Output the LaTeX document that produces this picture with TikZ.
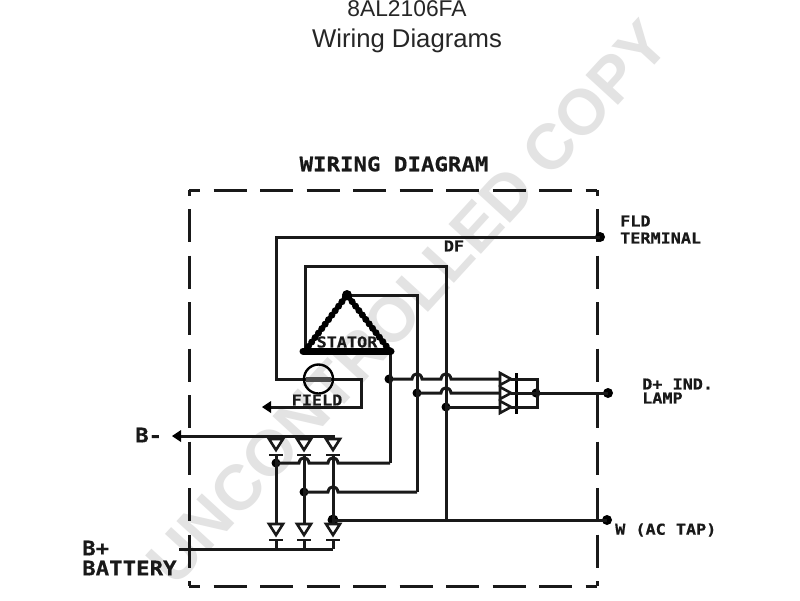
\documentclass[tikz,border=0pt]{standalone}
\usepackage{fontspec}
\setmainfont{Liberation Sans}
\newfontfamily\plot[FakeStretch=1.12,FakeBold=0.5]{DejaVu Sans Mono Bold}
\usetikzlibrary{arrows.meta,calc}
\tikzset{
 x=1pt,y=-1pt,
 wire/.style={line width=3pt,black!90},
 bxh/.style={line width=3pt,black!90,dash pattern=on 33pt off 13.5pt,dash phase=21.8pt},
 bxv/.style={line width=3pt,black!90,dash pattern=on 33pt off 13.5pt,dash phase=27.5pt},
 jn/.style={circle,fill=black,inner sep=0pt,minimum size=9pt},
 endd/.style={circle,fill=black,inner sep=0pt,minimum size=10pt},
 lab/.style={inner sep=0pt,font=\plot\fontsize{15}{15}\selectfont,text=black!90},
 labb/.style={inner sep=0pt,font=\plot\fontsize{20}{20}\selectfont,text=black!90},
 title/.style={inner sep=0pt,font=\fontsize{22.8}{24}\selectfont,text=black!85},
 mark text/.style={inner sep=0pt,font=\bfseries\fontsize{64}{64}\selectfont,text=black!11},
 diode/.style={line width=2.6pt,black!90},
 hop/.style n args={2}{insert path={-- ({#1-5},#2) .. controls ({#1-4},{#2-7}) and ({#1+4},{#2-7}) .. ({#1+5},#2)}},
}
\newcommand{\dn}[2]{% downward diode: top y given
 \draw[diode,fill=white] (#1-7,#2) -- (#1+7,#2) -- (#1,#2+11) -- cycle;
 \draw[diode] (#1-7,#2+16) -- (#1+7,#2+16);
}
\newcommand{\rd}[2]{% rightward diode triangle
 \draw[diode,fill=white] (#1,#2-6) -- (#1,#2+6) -- (#1+11,#2) -- cycle;
}
\begin{document}
\begin{tikzpicture}
\useasboundingbox (0,0) rectangle (800,600);
\fill[white] (0,0) rectangle (800,600);
\node[mark text,rotate=47.5,anchor=center] (wm) at (408,302) {UNCONTROLLED COPY};
\node[title] (t1) at (407,9) {8AL2106FA};
\node[title,font=\fontsize{25.7}{26}\selectfont] (t2) at (407,41) {Wiring Diagrams};
\node[labb] (t3) at (394,164) {WIRING DIAGRAM};
% box
\draw[bxh] (189,190) -- (597,190);
\draw[bxh] (189,586) -- (597,586);
\draw[bxv] (189,190) -- (189,586);
\draw[bxv] (597,190) -- (597,586);
% names
\coordinate (tl) at (276,237);
\coordinate (fb) at (276,379);
\coordinate (fr) at (361,379);
\coordinate (fd) at (361,407);
\coordinate (fa) at (268,407);
\node[endd] (fld) at (600,237) {};
\node[endd] (dp) at (608,393) {};
\node[endd] (w) at (607,520) {};
\coordinate (tA) at (305,351);
\coordinate (tB) at (347,295);
\coordinate (tC) at (390,351);
\node[jn] (j1) at (389,379) {};
\node[jn] (j2) at (417,393) {};
\node[jn] (j3) at (446,407) {};
\node[jn] (j4) at (536,393) {};
\node[jn] (j5) at (276,463) {};
\node[jn] (j6) at (304,492) {};
\node[jn,minimum size=11pt] (j7) at (333,520) {};
% field
\draw[wire] (fld.center) -- (tl) -- (fb) -- (fr) -- (fd) -- (fa);
\fill (fa) ++(-6,0) -- ++(9,-6) -- ++(0,12) -- cycle;
\node[circle,draw,line width=2.4pt,fill=none,minimum size=29pt,inner sep=0pt] (fc) at (318.5,379) {};
\draw[line width=5pt,black!70] (306,379) -- (331,379);
\node[lab] (fl) at (317,400) {FIELD};
% stator
\draw[wire] (tA) -- (305,266) -- (446,266) -- (446,520);
\draw[wire] (tB) -- (417,295) -- (417,492);
\draw[wire] (tC) -- (390,463);
\draw[line width=7pt,line cap=round,dash pattern=on 0pt off 5.6pt] (tA) -- (tB) -- (tC);
\draw[line width=4pt] (tA) -- (tB) -- (tC);
\fill (tB) circle[radius=5pt];
\draw[line width=7pt,line cap=round] (303,351) -- (391,351);
\node[lab] (st) at (347,342) {STATOR};
% B-
\coordinate (bm) at (172,436);
\coordinate (be) at (335,436);
\draw[wire] (be) -- (178,436);
\fill (bm) -- ++(9,-6) -- ++(0,12) -- cycle;
% verticals
\draw[wire] (276,455) -- (276,524) (304,455) -- (304,524) (333,455) -- (333,524);
\draw[wire] (276,539) -- (276,548) (304,539) -- (304,548) (333,539) -- (333,549);
\draw[wire] (179,549) -- (333,549);
\foreach \x in {276,304,333}{\dn{\x}{439}\dn{\x}{524}}
% cross wires
\draw[wire] (j5.center) -- (299,463) [hop={304}{463}] -- (328,463) [hop={333}{463}] -- (390,463);
\draw[wire] (j6.center) -- (328,492) [hop={333}{492}] -- (417,492);
\draw[wire] (j7.center) -- (w.center);
% rectifier bank
\draw[wire] (j1.center) -- (412,379) [hop={417}{379}] -- (441,379) [hop={446}{379}] -- (500,379);
\draw[wire] (j2.center) -- (441,393) [hop={446}{393}] -- (500,393);
\draw[wire] (j3.center) -- (500,407);
\foreach \y in {379,393,407}{\rd{500}{\y}}
\draw[line width=3pt] (516,373) -- (516,414);
\draw[wire] (511,379) -- (537,379) -- (537,407) -- (511,407);
\draw[wire] (511,393) -- (dp.center);
% labels
\node[lab,anchor=west] (a1) at (620,221) {FLD};
\node[lab,anchor=west] (a2) at (620,238) {TERMINAL};
\node[lab] (a3) at (454,246) {DF};
\node[lab,anchor=west] (a4) at (642,384) {D+ IND.};
\node[lab,anchor=west] (a5) at (642,398) {LAMP};
\node[lab,anchor=west] (a6) at (615,530) {W (AC TAP)};
\node[labb,anchor=west] (a7) at (135,435) {B-};
\node[labb,anchor=west] (a8) at (82,548) {B+};
\node[labb,anchor=west] (a9) at (82,568) {BATTERY};
\end{tikzpicture}
\end{document}
